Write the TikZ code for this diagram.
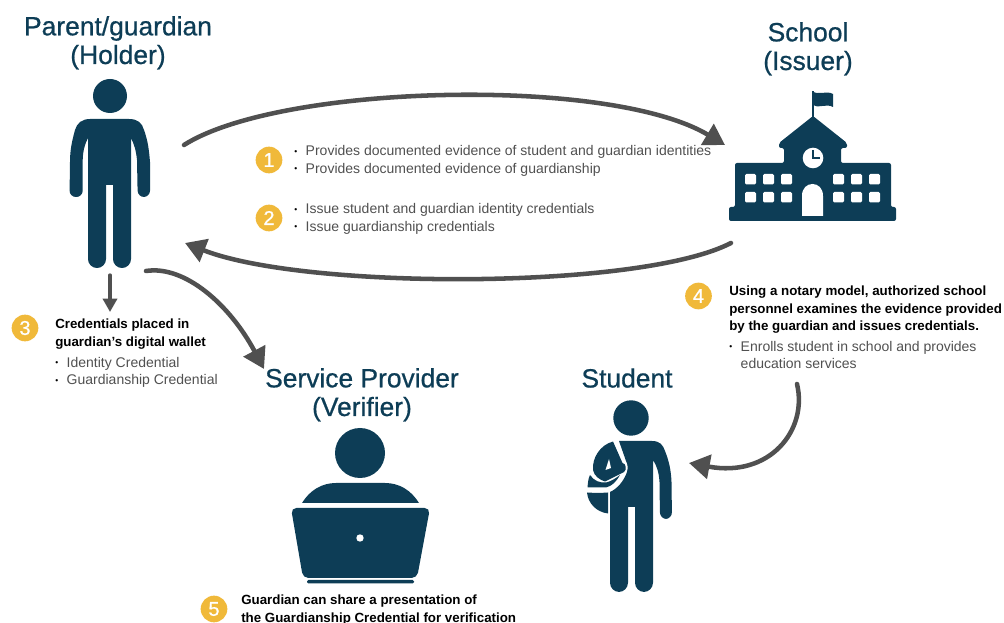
\documentclass[tikz,border=0pt]{standalone}
\usepackage{fontspec}
\setmainfont{Liberation Sans}
\newfontfamily\medfont[FakeBold=0.7]{Liberation Sans}
\usetikzlibrary{arrows.meta}
\definecolor{navy}{HTML}{0D3D56}
\definecolor{gold}{HTML}{F0B93A}
\definecolor{arrowgray}{HTML}{505050}
\definecolor{txtgray}{HTML}{505050}
\newcommand{\bul}{\makebox[8.6pt][l]{\color{black}\raisebox{0.12em}{\scalebox{0.6}{\textbullet}}}}
\tikzset{
 px/.style={x=0.75pt,y=-0.75pt},
 fig/.style={fill=navy,draw=none},
 hole/.style={fill=white,draw=none},
 heading/.style={text=navy,font=\medfont\fontsize{19.8}{21.5}\selectfont,align=center,inner sep=0pt,anchor=base},
 numdot/.style={circle,fill=gold,text=white,inner sep=0pt,minimum size=20pt,font=\medfont\fontsize{15}{15}\selectfont},
 note/.style={text=txtgray,font=\fontsize{10.5}{13.2}\selectfont,align=left,inner sep=0pt,anchor=base west},
 noteb/.style={text=black,font=\fontsize{10}{13.2}\bfseries\selectfont,align=left,inner sep=0pt,anchor=base west},
 flow/.style={draw=arrowgray,line width=3.4pt,line cap=round,-{Triangle[length=15.5pt,width=18pt]}},
 flowsmall/.style={draw=arrowgray,line width=2.5pt,line cap=round,-{Triangle[length=10pt,width=10.5pt]}},
}
\begin{document}
\begin{tikzpicture}[px]
\useasboundingbox (0,0) rectangle (1004,623);
\clip (0,0) rectangle (1004,623);
% headings
\node[heading] (hHolder) at (118,64) {Parent/guardian\\(Holder)};
\node[heading] (hIssuer) at (808,70) {School\\(Issuer)};
\node[heading] (hVerifier) at (362,416) {Service Provider\\(Verifier)};
\node[heading] (hStudent) at (627,387.5) {Student};
% parent
\fill[fig] (110,96) circle[radius=17];
\fill[fig] (90,119) -- (129,119) .. controls (138,119) and (142,123) .. (144,130)
 .. controls (148,141) and (149,150) .. (150,162)
 [rounded corners=4.8pt] -- (150,197) -- (137.7,197) [sharp corners] -- (137,160)
 .. controls (136,150) and (134,144) .. (131,138)
 [rounded corners=6.7pt] -- (131,268) -- (113,268) [sharp corners] -- (113,185) -- (106,185)
 [rounded corners=6.7pt] -- (106,268) -- (88,268) [sharp corners] -- (88,138)
 .. controls (85,144) and (83,150) .. (82.7,160)
 [rounded corners=4.8pt] -- (82.7,197) -- (69.5,197) [sharp corners] -- (70,162)
 .. controls (70,150) and (72,141) .. (75,130)
 .. controls (77,123) and (82,119) .. (90,119) -- cycle;
% school
\fill[fig] (812,91) -- (813.8,91) -- (813.8,117) -- (812,117) -- cycle;
\fill[fig] (812,91) .. controls (818,96) and (826,90) .. (833,94) -- (833,107) .. controls (826,103) and (818,109) .. (813,105) -- cycle;
\fill[fig,rounded corners=1.5pt] (813,116) -- (847,143) -- (847,148) -- (841,148) -- (841,163) -- (891,163) -- (891,207) -- (896,207) -- (896,221) -- (729,221) -- (729,207) -- (735,207) -- (735,163) -- (784,163) -- (784,148) -- (779,148) -- (779,143) -- cycle;
\fill[hole] (813,158) circle[radius=10.3];
\draw[navy,line width=1.5pt] (812.5,150.5) -- (812.5,158.5) -- (820,158.5);
\foreach \wx in {745,763,781,833,851,869}{
 \foreach \wy in {174,192}{
  \fill[hole,rounded corners=1pt] (\wx,\wy) rectangle ++(11,10.5);
 }}
\fill[hole] (802,216) -- (802,196) .. controls (802,188) and (807,184) .. (812.5,184) .. controls (818,184) and (823,188) .. (823,196) -- (823,216) -- cycle;
% student
\fill[fig] (631,418) circle[radius=17.7];
\fill[fig] (619,441) -- (652,441) .. controls (660,441) and (663,445) .. (665,451)
 .. controls (669,461) and (671,470) .. (671.5,482)
 [rounded corners=5pt] -- (672,519) -- (660,519) [sharp corners] -- (659.5,482)
 .. controls (659,473) and (657,466) .. (653,460)
 [rounded corners=7pt] -- (653,592) -- (635,592) [sharp corners] -- (635,507) -- (628,507)
 [rounded corners=7pt] -- (628,592) -- (610,592) [sharp corners] -- (610,492)
 .. controls (617,489) and (624,481) .. (627,472) .. controls (628,468) and (628,465) .. (626,461) -- cycle;
\fill[fig] (613,441.5) -- (622.5,463) .. controls (626,463) and (627,470) .. (624,472)
 -- (605,481.5) .. controls (600,480) and (594,476) .. (593,470)
 .. controls (592,458) and (600,445) .. (613,441.5) -- cycle;
\fill[hole] (609,459) -- (605.5,470) -- (611,468) -- cycle;
\fill[fig] (590,475) .. controls (594,481) and (600,483) .. (606,482.5) .. controls (612,481) and (616,478) .. (620,475)
 .. controls (616,482) and (612,486) .. (606,487.5) -- (587.5,487.5) .. controls (588,483) and (588,479) .. (590,475) -- cycle;
\fill[fig] (587,492.5) .. controls (594,493) and (602,493) .. (608,492.5) -- (608,513.5) .. controls (596,512) and (588,503) .. (587,492.5) -- cycle;
% laptop
\fill[fig] (360,453) circle[radius=25];
\fill[fig] (302,503) .. controls (310,490) and (322,483) .. (336,483) -- (385,483) .. controls (399,483) and (411,490) .. (419,503) -- cycle;
\fill[fig,rounded corners=4pt] (291,508) -- (430,508) -- (417,578) -- (303,578) -- cycle;
\fill[hole] (360,538) circle[radius=3.7];
\fill[fig,rounded corners=1pt] (307,580) rectangle (414,583.5);
% anchors for arrows
\coordinate (holderTop) at (184,145);
\coordinate (issuerIn) at (725,145);
\coordinate (issuerOut) at (731,243);
\coordinate (holderIn) at (185,243);
\coordinate (holderFoot) at (110,275);
\coordinate (walletTop) at (110,312);
\coordinate (holderSide) at (146,271);
\coordinate (verifierIn) at (264,369);
\coordinate (noteFour) at (797,384);
\coordinate (studentIn) at (689,463);
\draw[flow] (holderTop) .. controls (280,84) and (610,76) .. (issuerIn);
\draw[flow] (issuerOut) .. controls (640,290) and (305,290) .. (holderIn);
\draw[flow] (holderSide) .. controls (185,265) and (230,305) .. (verifierIn);
\draw[flowsmall] (holderFoot) -- (walletTop);
\draw[flow] (noteFour) .. controls (808,430) and (770,478) .. (studentIn);
% numbers
\node[numdot] (n1) at (269,160) {1};
\node[numdot] (n2) at (269,218) {2};
\node[numdot] (n3) at (25,328) {3};
\node[numdot] (n4) at (698.5,296) {4};
\node[numdot] (n5) at (214,609) {5};
% notes
\node[note] (t1) at (294,173.5) {\bul Provides documented evidence of student and guardian identities\\\bul Provides documented evidence of guardianship};
\node[note] (t2) at (294,231.5) {\bul Issue student and guardian identity credentials\\\bul Issue guardianship credentials};
\node[noteb] (t3) at (55,346.5) {Credentials placed in\\guardian’s digital wallet};
\node[note] (t3b) at (55,385) {\bul Identity Credential\\\bul Guardianship Credential};
\node[noteb] (t4) at (729,331) {Using a notary model, authorized school\\personnel examines the evidence provided\\by the guardian and issues credentials.};
\node[note] (t4b) at (729,369) {\bul Enrolls student in school and provides\\\hspace*{8.6pt}education services};
\node[noteb] (t5) at (241,622.5) {Guardian can share a presentation of\\the Guardianship Credential for verification};
\end{tikzpicture}
\end{document}
